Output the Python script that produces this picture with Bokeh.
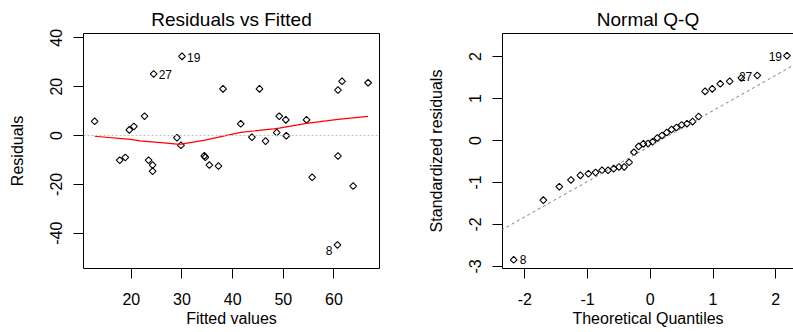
import numpy as np
from bokeh.plotting import figure
from bokeh.layouts import row
from bokeh.models import Range1d, FixedTicker, LinearAxis, Span, Slope
from bokeh.core.properties import value
from bokeh.embed import file_html
from bokeh.resources import INLINE

# ---------------- data ----------------
fitted = [12.75, 19.6, 20.5, 22.6, 24.4, 30.0, 29.0, 29.8, 38.1, 41.6, 43.8, 45.3,
          46.5, 49.2, 50.5, 48.7, 50.6, 54.6, 60.8, 61.6, 17.7, 18.8, 23.4, 24.2,
          24.2, 34.4, 34.6, 35.4, 37.2, 55.7, 60.8, 63.8, 60.7, 66.75]
residuals = [5.8, 2.3, 3.7, 7.9, 25.2, 32.4, -0.9, -4.0, 19.1, 4.8, -0.7, 19.1,
             -2.3, 7.9, 6.4, 1.2, -0.1, 6.4, 18.6, 22.2, -10.1, -9.0, -10.1, -12.1,
             -14.6, -8.3, -8.9, -12.1, -12.5, -17.1, -8.4, -20.7, -44.8, 21.6]
smooth_x = [12.75, 19.8, 21.7, 27.0, 29.0, 29.8, 34.3, 40.2, 41.6, 48.1, 49.2, 54.6, 60.8, 66.75]
smooth_y = [-0.3, -1.6, -2.2, -3.1, -3.5, -3.5, -2.0, 0.7, 1.3, 2.7, 3.0, 5.0, 6.6, 7.8]

theoretical = [-2.178, -1.705, -1.450, -1.265, -1.115, -0.987, -0.873, -0.770, -0.674,
               -0.584, -0.499, -0.417, -0.338, -0.261, -0.186, -0.111, -0.037, 0.037,
               0.111, 0.186, 0.261, 0.338, 0.417, 0.499, 0.584, 0.674, 0.770, 0.873,
               0.987, 1.115, 1.265, 1.450, 1.705, 2.178]
std_resid = [-2.84, -1.42, -1.10, -0.94, -0.83, -0.79, -0.76, -0.71, -0.71, -0.67,
             -0.63, -0.63, -0.52, -0.28, -0.14, -0.08, -0.07, -0.03, 0.06, 0.12,
             0.19, 0.26, 0.31, 0.37, 0.40, 0.45, 0.57, 1.17, 1.23, 1.35, 1.41,
             1.49, 1.55, 2.02]

left_x_ticks = [20, 30, 40, 50, 60]
left_x_labels = ["20", "30", "40", "50", "60"]
left_y_ticks = [-40, -20, 0, 20, 40]
left_y_labels = ["-40", "-20", "0", "20", "40"]
right_x_ticks = [-2, -1, 0, 1, 2]
right_x_labels = ["-2", "-1", "0", "1", "2"]
right_y_ticks = [-3, -2, -1, 0, 1, 2]
right_y_labels = ["-3", "-2", "-1", "0", "1", "2"]

# labelled observations: (id, index in arrays)
rv_right_ids = [("19", 5), ("27", 4)]
rv_left_ids = [("8", 32)]
qq_left_ids = [("19", 33), ("27", 32)]
qq_right_ids = [("8", 0)]

FONT = "Liberation Sans"

# qq line through the quartiles
q1, q3 = np.quantile(std_resid, [0.25, 0.75])
z75 = 0.6745
qq_slope = (q3 - q1) / (2 * z75)
qq_int = q1 + qq_slope * z75


def base_fig(width, xr, yr, right_border):
    p = figure(width=width, height=332, x_range=Range1d(*xr), y_range=Range1d(*yr),
               output_backend="svg", toolbar_location=None,
               x_axis_location=None, y_axis_location=None,
               min_border_left=83, min_border_right=right_border,
               min_border_top=33, min_border_bottom=64)
    p.grid.visible = False
    p.outline_line_color = None
    p.background_fill_color = "white"
    p.border_fill_color = "white"
    return p


def tick_axis(ticks, labels, label, vertical=False):
    ax = LinearAxis(ticker=FixedTicker(ticks=ticks),
                    major_label_overrides={t: l for t, l in zip(ticks, labels)})
    ax.axis_line_color = "black"
    ax.axis_line_width = 1
    ax.major_tick_line_color = "black"
    ax.major_tick_in = 0
    ax.major_tick_out = 10
    ax.minor_tick_line_color = None
    ax.major_label_text_font = FONT
    ax.major_label_text_font_size = "16px"
    ax.major_label_text_color = "black"
    ax.axis_label = label
    ax.axis_label_text_font = FONT
    ax.axis_label_text_font_size = "16px"
    ax.axis_label_text_font_style = "normal"
    ax.axis_label_text_color = "black"
    if vertical:
        ax.major_label_orientation = "parallel"
        ax.major_label_standoff = 11
        ax.axis_label_standoff = 22
    else:
        ax.major_label_standoff = 14
        ax.axis_label_standoff = 2
    return ax


def border_axis(title=""):
    ax = LinearAxis(ticker=FixedTicker(ticks=[]))
    ax.axis_line_color = "black"
    ax.major_tick_out = 0
    ax.major_tick_in = 0
    ax.minor_tick_line_color = None
    ax.major_label_standoff = 0
    ax.major_label_text_font_size = "0px"
    ax.axis_label = title
    ax.axis_label_text_font = FONT
    ax.axis_label_text_font_size = "19px"
    ax.axis_label_text_font_style = "normal"
    ax.axis_label_text_color = "black"
    ax.axis_label_standoff = 4
    return ax


def id_labels(p, xs, ys, ids, align, xoff, yoff):
    p.text(x=[xs[i] for _, i in ids], y=[ys[i] for _, i in ids], text=[t for t, _ in ids],
           text_font=value(FONT), text_font_size="12px", text_color="black",
           text_align=align, text_baseline="middle", x_offset=xoff, y_offset=yoff)


# ---------------- Residuals vs Fitted ----------------
p1 = base_fig(419, (10.55, 69.0), (-54.45, 41.76), 40)
p1.add_layout(tick_axis(left_x_ticks, left_x_labels, "Fitted values"), "below")
p1.add_layout(tick_axis(left_y_ticks, left_y_labels, "Residuals", vertical=True), "left")
p1.add_layout(border_axis("Residuals vs Fitted"), "above")
p1.add_layout(border_axis(), "right")
p1.add_layout(Span(location=0, dimension="width", line_color="#bebebe",
                   line_dash="2 2", line_width=1))
p1.scatter(fitted, residuals, marker="square", size=4.8, angle=np.pi / 4,
           fill_color=None, line_color="black", line_width=1.1)
p1.line(smooth_x, smooth_y, line_color="red", line_width=1.2)
id_labels(p1, fitted, residuals, rv_right_ids, "left", 5, 1)
id_labels(p1, fitted, residuals, rv_left_ids, "right", -5, 6)

# ---------------- Normal Q-Q ----------------
p2 = base_fig(374, (-2.356, 2.282), (-3.048, 2.548), 0)
p2.add_layout(tick_axis(right_x_ticks, right_x_labels, "Theoretical Quantiles"), "below")
p2.add_layout(tick_axis(right_y_ticks, right_y_labels, "Standardized residuals",
                        vertical=True), "left")
p2.add_layout(border_axis("Normal Q-Q"), "above")
p2.add_layout(Slope(gradient=qq_slope, y_intercept=qq_int, line_color="#7f7f7f",
                    line_dash="3 3", line_width=1))
p2.scatter(theoretical, std_resid, marker="square", size=4.8, angle=np.pi / 4,
           fill_color=None, line_color="black", line_width=1.1)
id_labels(p2, theoretical, std_resid, qq_left_ids, "right", -5, 1)
id_labels(p2, theoretical, std_resid, qq_right_ids, "left", 6, 0)

layout = row(p1, p2)
open("out.html", "w").write(file_html(layout, INLINE))
